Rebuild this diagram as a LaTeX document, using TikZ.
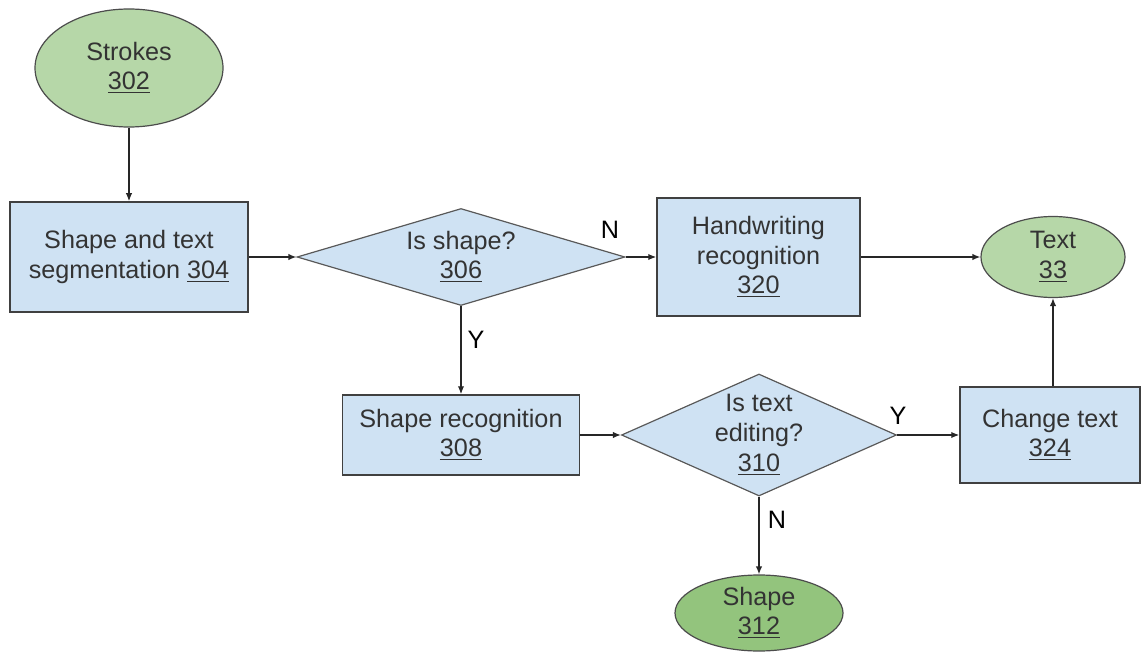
\documentclass[tikz,border=0pt]{standalone}
\usepackage{fontspec}
\setmainfont{Liberation Sans}
\usetikzlibrary{shapes.geometric,arrows.meta}
\definecolor{boxblue}{HTML}{CFE2F3}
\definecolor{termgreen}{HTML}{B6D7A8}
\definecolor{endgreen}{HTML}{93C47D}
\begin{document}
\begin{tikzpicture}[x=0.5pt,y=-0.5pt,
    font=\fontsize{12.6}{14.8}\selectfont,
    procbox/.style={rectangle,draw=black!75,line width=0.75pt,fill=boxblue,align=center,text=black!80},
    decision/.style={diamond,draw=black!65,line width=0.6pt,fill=boxblue,align=center,inner sep=0pt,text=black!80},
    terminal/.style={ellipse,draw=black!70,line width=0.6pt,fill=termgreen,align=center,inner sep=0pt,text=black!80}]
  \useasboundingbox (0,0) rectangle (1141,652);
  \begin{scope}
    \node[terminal,minimum width=94pt,minimum height=59pt] (strokes) at (129,68) {Strokes\\\underline{302}};
    \node[procbox,minimum width=119pt,minimum height=55pt] (seg) at (129,257) {Shape and text\\segmentation \underline{304}};
    \node[decision,minimum width=164pt,minimum height=48.5pt,aspect=3.4] (isshape) at (461,257) {Is shape?\\\underline{306}};
    \node[procbox,minimum width=101.5pt,minimum height=59pt] (hw) at (758.5,257) {Handwriting\\recognition\\\underline{320}};
    \node[terminal,minimum width=72pt,minimum height=40.5pt] (text) at (1053,257) {Text\\\underline{33}};
    \node[procbox,minimum width=118.5pt,minimum height=40pt] (shaperec) at (461,435) {Shape recognition\\\underline{308}};
    \node[decision,minimum width=137.5pt,minimum height=61pt,aspect=2.25] (istext) at (759,435) {Is text\\editing?\\\underline{310}};
    \node[procbox,minimum width=90pt,minimum height=48pt] (change) at (1050,435) {Change text\\\underline{324}};
    \node[terminal,fill=endgreen,minimum width=84pt,minimum height=38pt] (shape) at (759,613) {Shape\\\underline{312}};
  \end{scope}
  \begin{scope}[every edge/.style={draw=black!85,line width=0.65pt,-{Latex[length=4pt,width=3.2pt]}}]
    \path (strokes) edge (seg);
    \path (seg) edge (isshape);
    \path (isshape) edge (hw);
    \path (hw) edge (text);
    \path (isshape) edge (shaperec);
    \path (shaperec) edge (istext);
    \path (istext) edge (change);
    \path (istext) edge (shape);
    \path (text.south |- change.north) edge (text.south);
  \end{scope}
  % branch labels
  \node (lblN1) at (610,230) {N};
  \node (lblY1) at (476,340) {Y};
  \node (lblY2) at (898,416) {Y};
  \node (lblN2) at (777,520) {N};
\end{tikzpicture}
\end{document}
